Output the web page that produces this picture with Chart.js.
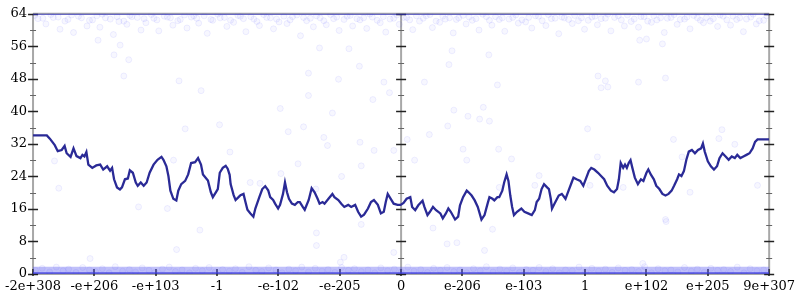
<!DOCTYPE html>
<html>
<head>
<meta charset="utf-8">
<script src="https://cdn.jsdelivr.net/npm/chart.js@4.4.1/dist/chart.umd.min.js"></script>
<style>
  html, body { margin: 0; padding: 0; background: #fff; }
  #wrap { width: 800px; height: 300px; }
</style>
</head>
<body>
<div id="wrap"><canvas id="chart"></canvas></div>
<script>
// x runs 0..1200, one label every 100
const xTickValues = [0, 100, 200, 300, 400, 500, 600, 700, 800, 900, 1000, 1100, 1200];
const xTickLabels = ['-2e+308', '-e+206', '-e+103', '-1', '-e-102', '-e-205', '0',
                     'e-206', 'e-103', '1', 'e+102', 'e+205', '9e+307'];
const yTickValues = [0, 8, 16, 24, 32, 40, 48, 56, 64];

// main trace
const lineX = [0, 22.5, 27.4, 35.4, 40.3, 46.7, 51.5, 54.8, 61.2, 66.0, 70.9, 77.3, 80.5, 83.8, 87.0, 90.2, 96.6, 103.1, 109.5, 114.4,
  120.8, 125.6, 128.9, 132.1, 136.9, 141.7, 145.0, 149.8, 154.6, 157.8, 162.7, 167.5, 170.7, 175.6, 180.4, 185.2, 190.1, 196.5, 202.9, 209.4,
  212.6, 217.4, 220.7, 223.9, 228.7, 233.6, 236.8, 241.6, 248.0, 252.9, 257.7, 264.2, 269.0, 273.8,
  277.0, 285.1, 289.9, 293.1, 298.0, 301.2, 304.4, 309.3, 314.1, 317.3, 320.5, 322.1, 327.0, 330.2, 335.0, 338.2, 343.1, 346.3, 349.5, 354.4,
  359.2, 362.4, 368.9, 373.7, 378.5, 383.3, 386.6, 391.4, 394.6, 399.5, 402.7, 407.5, 410.7, 414.0, 417.2, 422.0, 426.8, 431.7, 434.9, 439.7,
  442.9, 449.4, 454.2, 459.0, 463.9, 467.1, 471.9, 475.2, 481.6, 488.0, 491.3, 497.7, 502.5, 507.4, 513.8, 518.6, 525.1, 529.9, 534.8, 539.6,
  546.0, 550.9, 555.7, 562.1, 567.0, 571.8, 575.0, 578.2, 583.1, 587.9, 594.3, 599.2,
  604, 609, 615, 618, 623, 628, 635, 638, 643, 647, 652, 657, 664, 668, 673, 677, 681, 688, 693, 696,
  701, 707, 710, 715, 720, 725, 731, 736, 741, 744, 749, 752, 757, 760, 765, 768, 772, 775, 778, 781,
  784, 789, 796, 801, 807, 813, 818, 821, 825, 829, 833, 838, 841, 844, 846, 850, 857, 862, 868, 873,
  878, 881, 886, 892, 897, 902, 906, 910, 915, 921,
  926, 931, 936, 942, 947, 952, 955, 958, 962, 965, 968, 971, 974, 977, 981, 986, 991, 995, 1000, 1003,
  1007, 1012, 1016, 1021, 1026, 1031, 1036, 1041, 1045, 1050, 1053, 1057, 1061, 1065, 1069, 1074, 1079, 1084, 1089, 1092,
  1095, 1100, 1105, 1110, 1115, 1119, 1124, 1129, 1134, 1139, 1144, 1148, 1153, 1158, 1163, 1168, 1173, 1177, 1181, 1200];
const lineY = [34.1, 34.1, 33.3, 31.7, 30.2, 30.5, 31.5, 29.7, 28.8, 30.9, 29.0, 28.5, 29.3, 28.9, 30.0, 26.9, 26.1, 26.7, 26.9, 25.7,
  26.5, 25.4, 26.1, 23.3, 21.3, 20.8, 21.3, 23.3, 23.5, 25.5, 24.9, 22.5, 21.7, 22.5, 21.7, 22.5, 24.9, 26.9, 28.1, 28.8,
  28.1, 26.5, 24.1, 20.5, 18.5, 18.1, 20.5, 22.1, 22.9, 24.5, 27.3, 27.5, 28.5, 26.9,
  24.5, 23.0, 20.1, 18.9, 20.1, 20.9, 24.9, 26.1, 26.6, 25.9, 24.4, 22.1, 19.4, 18.2, 18.9, 19.4, 19.7, 17.7, 15.8, 14.9,
  14.1, 16.1, 18.9, 20.9, 21.6, 20.6, 18.9, 18.2, 17.3, 16.1, 17.0, 19.7, 22.5, 20.1, 18.5, 17.3, 17.0, 17.7, 17.7, 16.5,
  15.8, 18.2, 21.1, 20.1, 18.5, 17.3, 17.7, 17.3, 18.5, 19.7, 18.9, 18.2, 17.3, 16.5, 17.0, 16.5, 17.0, 15.3, 14.1, 14.6,
  16.1, 17.7, 18.2, 17.0, 14.9, 15.3, 17.7, 19.7, 18.5, 17.3, 17.0, 17.0,
  17.5, 18.5, 18.9, 16.5, 15.7, 16.9, 18.0, 16.5, 14.5, 15.3, 16.5, 15.7, 14.9, 13.7, 14.9, 16.1, 15.3, 13.4, 14.1, 16.9,
  18.9, 20.5, 20.1, 19.3, 18.1, 16.5, 13.4, 14.5, 17.3, 18.9, 18.5, 18.1, 18.9, 18.9, 20.5, 22.5, 24.5, 22.9, 19.3, 16.5,
  14.5, 15.3, 16.1, 15.3, 14.9, 14.5, 15.7, 17.7, 18.5, 20.9, 22.1, 21.3, 20.9, 18.5, 16.1, 17.3, 19.3, 19.7, 18.5, 20.5,
  22.5, 23.7, 23.3, 22.9, 21.7, 23.7, 25.3, 26.1, 25.7, 24.9,
  24.1, 23.3, 21.7, 20.5, 20.1, 20.9, 23.3, 27.3, 26.1, 26.9, 26.1, 27.3, 28.0, 26.1, 23.7, 22.1, 23.3, 22.9, 24.9, 25.7,
  24.5, 23.3, 21.7, 20.9, 19.7, 19.3, 19.7, 20.5, 21.7, 23.3, 24.5, 24.1, 25.3, 28.1, 30.1, 30.5, 29.7, 30.5, 30.9, 32.1,
  30.1, 27.7, 26.5, 25.7, 26.5, 28.5, 29.7, 28.9, 28.1, 28.9, 28.5, 29.3, 28.5, 28.9, 29.3, 29.7, 30.9, 32.5, 33.1, 33.1];

// faint samples: dense near the top
const topX = [8, 21, 33, 44, 52, 66, 74, 88, 97, 109, 118, 131, 140, 153, 161, 176, 184, 197, 205, 219, 228, 240, 251, 262, 270, 284, 293, 305,
  316, 327, 338, 347, 360, 369, 381, 392, 401, 414, 423, 436, 446, 457, 468, 478, 490, 499, 512, 521, 533, 544, 553, 566, 575, 588, 597, 609,
  619, 630, 641, 651, 663, 672, 685, 694, 706, 716, 727, 739, 748, 760, 769, 782, 791, 803, 813, 824, 836, 845, 857, 866, 879, 889, 899, 911,
  920, 933, 942, 954, 964, 975, 987, 996, 1008, 1017, 1029, 1040, 1050, 1062, 1071, 1083, 1093, 1104, 1116, 1125, 1137, 1147, 1158, 1170, 1179, 1191];
const topY = [62.8, 61.5, 63.1, 60.2, 62.2, 59.4, 63.4, 61.0, 62.5, 60.7, 63.0, 58.9, 62.1, 61.4, 63.3, 60.0, 61.8, 62.9, 59.8, 63.2, 61.2, 62.6,
  60.5, 63.5, 61.7, 59.2, 62.4, 63.0, 60.9, 61.9, 63.4, 59.6, 62.7, 61.1, 63.1, 60.3, 62.0, 61.6, 63.3, 58.6, 62.3, 60.8, 63.0, 61.3, 62.8, 59.9,
  63.4, 61.0, 62.5, 60.4, 63.2, 61.8, 59.5, 62.9, 61.4, 63.1, 60.1, 62.2, 63.5, 60.6, 61.9, 62.7, 59.3, 63.0, 61.5, 62.4, 60.0, 63.3, 61.2, 62.6,
  59.7, 63.1, 61.7, 62.0, 60.5, 63.4, 61.1, 62.8, 59.1, 63.0, 61.6, 62.3, 60.2, 63.2, 61.3, 62.9, 59.8, 63.5, 61.0, 62.1, 60.7, 63.3, 61.9, 62.5,
  59.4, 63.1, 61.4, 62.7, 60.3, 63.0, 61.8, 62.2, 60.9, 63.4, 61.2, 62.6, 59.6, 63.2, 61.5, 62.4];
// second row hugging the top edge
const topX2 = [3, 16, 29, 41, 57, 63, 79, 92, 104, 113, 126, 137, 148, 158, 170, 181, 193, 202, 214, 224, 236, 247, 258, 267, 279, 290, 301, 312,
  322, 334, 343, 355, 365, 376, 387, 397, 409, 419, 430, 441, 452, 462, 474, 485, 495, 507, 517, 528, 539, 549, 561, 571, 582, 593, 604, 614,
  625, 636, 647, 657, 668, 679, 690, 701, 711, 722, 733, 744, 754, 765, 776, 787, 797, 808, 819, 830, 840, 851, 862, 873, 883, 894, 905, 916,
  926, 937, 948, 959, 969, 980, 991, 1002, 1012, 1023, 1034, 1045, 1055, 1066, 1077, 1088, 1098, 1109, 1120, 1131, 1141, 1152, 1163, 1174, 1184, 1196];
const topY2 = [63.6, 62.9, 63.8, 63.2, 62.6, 63.7, 63.0, 62.4, 63.5, 63.9, 62.7, 63.3, 62.2, 63.6, 63.1, 62.8, 63.8, 62.5, 63.4, 63.0, 62.3, 63.7,
  63.2, 62.9, 63.5, 62.6, 63.9, 63.1, 62.4, 63.6, 62.8, 63.3, 62.1, 63.8, 63.0, 62.7, 63.4, 62.5, 63.7, 63.1, 62.9, 63.5, 62.3, 63.8, 63.2, 62.6,
  63.6, 62.8, 63.0, 63.9, 62.4, 63.3, 62.7, 63.7, 63.1, 62.5, 63.5, 62.9, 63.8, 62.2, 63.4, 63.0, 62.6, 63.6, 63.2, 62.8, 63.9, 62.4, 63.3, 63.0,
  62.7, 63.7, 62.5, 63.1, 63.5, 62.3, 63.8, 62.9, 63.2, 62.6, 63.6, 63.0, 62.4, 63.4, 62.8, 63.9, 63.1, 62.5, 63.7, 62.7, 63.3, 62.2, 63.5, 63.0,
  62.9, 63.8, 62.6, 63.2, 63.6, 62.4, 63.1, 62.8, 63.7, 62.5, 63.4, 63.0, 62.7, 63.9, 62.3, 63.5];

// ...dense near zero
const bottomX = [4, 15, 27, 38, 49, 58, 70, 81, 92, 102, 113, 124, 134, 146, 157, 167, 178, 189, 199, 211, 222, 232, 243, 255, 265, 276, 287, 297,
  309, 320, 330, 341, 352, 363, 373, 384, 396, 406, 417, 428, 438, 449, 460, 471, 481, 492, 503, 514, 524, 535, 546, 557, 567, 578, 589, 600,
  611, 621, 632, 643, 653, 664, 675, 686, 696, 707, 718, 729, 739, 750, 761, 772, 782, 793, 804, 815, 825, 836, 847, 858, 868, 879, 890, 901,
  911, 922, 933, 944, 954, 965, 976, 987, 997, 1008, 1019, 1030, 1040, 1051, 1062, 1073, 1083, 1094, 1105, 1116, 1126, 1137, 1148, 1159, 1169, 1180, 1191];
const bottomY = [0.9, 1.4, 0.5, 1.7, 0.8, 1.2, 0.4, 1.6, 1.0, 0.6, 1.3, 0.3, 1.8, 0.7, 1.1, 0.5, 1.5, 0.9, 0.4, 1.2, 1.7, 0.6, 1.0, 0.3, 1.4, 0.8,
  1.6, 0.5, 1.1, 0.7, 1.3, 0.4, 1.8, 0.9, 0.6, 1.5, 1.0, 0.3, 1.2, 0.8, 1.7, 0.5, 1.4, 0.7, 1.1, 0.4, 1.6, 0.9, 1.3, 0.6, 1.0, 0.3, 1.5, 0.8,
  1.2, 0.5, 1.7, 0.7, 1.1, 0.4, 1.4, 0.9, 1.6, 0.6, 1.0, 0.3, 1.3, 0.8, 1.8, 0.5, 1.2, 0.7, 1.5, 0.4, 1.1, 0.9, 1.6, 0.6, 1.3, 0.3, 1.0, 0.8,
  1.7, 0.5, 1.4, 0.7, 1.2, 0.4, 1.5, 0.9, 1.1, 0.6, 1.8, 0.3, 1.3, 0.8, 1.0, 0.5, 1.6, 0.7, 1.2, 0.4, 1.4, 0.9, 1.1, 0.6, 1.7, 0.3, 1.3, 0.8, 1.0];

// ...and a few stragglers in between
const midX = [248, 35, 42, 172, 219, 229, 403, 304, 416, 441, 488, 474, 480, 533, 556, 588, 321, 432, 404, 503, 354, 370, 535, 461,
  686, 734, 709, 728, 744, 676, 646, 610, 701, 759, 622, 707, 780, 904, 920, 825, 818, 760, 908, 1044, 1123, 1144, 1118, 1058, 1181,
  962, 1071, 1031, 462, 462, 501, 507, 535, 588, 675, 691, 652, 749, 736, 234, 272, 93, 1032, 994,
  515, 532, 449, 498, 572, 581, 554, 449, 638, 678, 757, 743, 467, 683, 106, 142, 132, 156, 148, 238, 274, 921, 933, 926, 937, 987,
  1031, 1026, 989, 1000];
const midY = [35.7, 27.8, 21.1, 16.5, 16.1, 28.0, 40.7, 36.7, 35.0, 36.2, 39.6, 33.6, 31.6, 32.4, 30.4, 30.4, 30.0, 27.1, 24.7, 24.0, 22.5, 22.3, 26.6, 20.9,
  40.3, 41.0, 38.8, 38.1, 37.6, 36.4, 34.3, 33.1, 30.7, 30.7, 28.0, 28.0, 28.3, 35.7, 28.8, 24.2, 21.8, 21.3, 21.8, 33.1, 35.5, 31.9, 33.3, 28.8, 21.8,
  21.3, 20.1, 13.4, 10.1, 7.0, 2.9, 4.1, 12.2, 5.3, 7.4, 7.7, 11.3, 11.0, 5.8, 6.0, 10.8, 3.8, 12.9, 2.6,
  55.4, 51.1, 49.4, 47.9, 47.2, 44.6, 42.9, 43.9, 47.2, 51.5, 46.5, 53.9, 55.6, 54.9, 57.5, 56.3, 53.9, 52.7, 48.7, 47.5, 45.1, 48.7, 47.5, 45.8, 46.0, 47.2,
  48.2, 56.6, 57.5, 57.8];

// the solid bands where the samples pile up
const bandX = [0, 1200];
const topBandY = [64, 64];
const bottomBandY = [0.9, 0.9];
const bottomEdgeY = [0.2, 0.2];

function pairs(xs, ys) {
  const out = [];
  for (let i = 0; i < Math.min(xs.length, ys.length); i++) out.push({ x: xs[i], y: ys[i] });
  return out;
}

const dotStyle = {
  type: 'scatter',
  pointRadius: 3,
  pointBorderWidth: 1,
  pointBackgroundColor: 'rgba(60,60,255,0.04)',
  pointBorderColor: 'rgba(60,60,255,0.08)',
  pointHoverRadius: 3
};

// axes, zero line and tick marks in the gnuplot look
const frame = {
  id: 'frame',
  beforeDatasetsDraw(chart) {
    const { ctx, scales: { x, y } } = chart;
    const x0 = x.getPixelForValue(0), xm = x.getPixelForValue(600), x1 = x.getPixelForValue(1200);
    const yb = y.getPixelForValue(0), yt = y.getPixelForValue(64);
    ctx.save();
    ctx.strokeStyle = '#a8a8a8';
    ctx.lineWidth = 2;
    ctx.beginPath();
    ctx.moveTo(x0, yt); ctx.lineTo(x1, yt);
    ctx.moveTo(x0, yb); ctx.lineTo(x1, yb);
    [x0, xm, x1].forEach(px => { ctx.moveTo(px, yt); ctx.lineTo(px, yb); });
    ctx.stroke();

    for (let v = 0; v <= 64; v += 4) {
      const py = Math.round(y.getPixelForValue(v)) + 0.5;
      const major = v % 8 === 0;
      const len = major ? 5 : 3;
      ctx.strokeStyle = major ? '#222' : '#666';
      ctx.lineWidth = major ? 1.5 : 1;
      ctx.beginPath();
      [x0, xm, x1].forEach(px => { ctx.moveTo(px - len, py); ctx.lineTo(px + len, py); });
      ctx.stroke();
    }
    ctx.strokeStyle = '#222';
    ctx.lineWidth = 1.5;
    ctx.beginPath();
    xTickValues.forEach(v => {
      const px = Math.round(x.getPixelForValue(v));
      ctx.moveTo(px, yb - 5); ctx.lineTo(px, yb + 2);
    });
    ctx.stroke();
    ctx.restore();
  }
};

new Chart(document.getElementById('chart'), {
  type: 'scatter',
  data: {
    datasets: [
      { ...dotStyle, data: pairs(topX, topY) },
      { ...dotStyle, data: pairs(topX2, topY2) },
      { ...dotStyle, data: pairs(bottomX, bottomY) },
      { ...dotStyle, data: pairs(midX, midY) },
      { type: 'line', data: pairs(bandX, bottomBandY), borderColor: 'rgba(90,90,240,0.38)', borderWidth: 7, pointRadius: 0 },
      { type: 'line', data: pairs(bandX, bottomEdgeY), borderColor: 'rgba(40,40,220,0.6)', borderWidth: 2.5, pointRadius: 0 },
      { type: 'line', data: pairs(bandX, topBandY), borderColor: 'rgba(50,50,200,0.6)', borderWidth: 2.5, pointRadius: 0 },
      { type: 'line', data: pairs(lineX, lineY), borderColor: '#2a2a96', borderWidth: 2.3, pointRadius: 0, tension: 0 }
    ]
  },
  options: {
    responsive: true,
    maintainAspectRatio: false,
    animation: false,
    events: [],
    layout: { padding: { top: 7, right: 27, left: 0, bottom: 0 } },
    plugins: { legend: { display: false }, tooltip: { enabled: false } },
    scales: {
      x: {
        type: 'linear',
        min: 0,
        max: 1200,
        grid: { display: false, drawTicks: false },
        border: { display: false },
        afterBuildTicks: s => { s.ticks = xTickValues.map(v => ({ value: v })); },
        afterFit: s => { s.height = 26; },
        ticks: {
          autoSkip: false,
          maxRotation: 0,
          padding: 5,
          color: '#000',
          font: { family: 'DejaVu Serif', size: 13 },
          callback: (v, i) => xTickLabels[i]
        }
      },
      y: {
        min: 0,
        max: 64,
        grid: { display: false, drawTicks: false },
        border: { display: false },
        afterBuildTicks: s => { s.ticks = yTickValues.map(v => ({ value: v })); },
        afterFit: s => { s.width = 28; },
        ticks: {
          padding: 6,
          color: '#000',
          font: { family: 'DejaVu Serif', size: 13 }
        }
      }
    }
  },
  plugins: [frame]
});
</script>
</body>
</html>
